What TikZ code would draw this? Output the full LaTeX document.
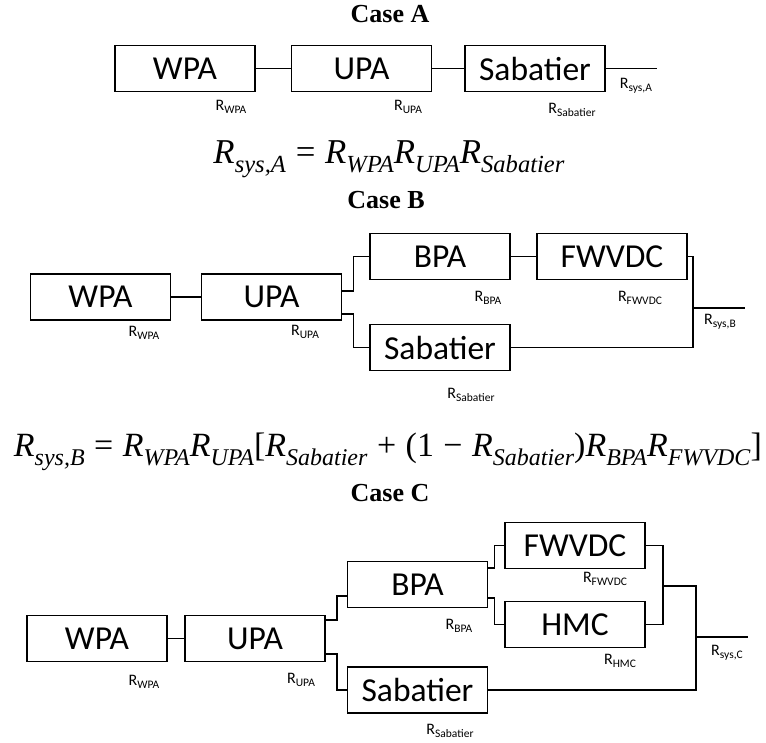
\documentclass[tikz,border=0pt]{standalone}
\usepackage{graphicx}
\usepackage[no-math]{fontspec}
\newfontfamily\calibri{Carlito}
\newfontfamily\titlefont{Liberation Serif}
\usetikzlibrary{calc}
\newcommand{\Rlab}[1]{R\raisebox{-0.22em}{\fontsize{11.5}{11.5}\selectfont #1}}
\newcommand{\eqR}[1]{\textit{R}\raisebox{-0.28em}{\fontsize{24}{24}\selectfont\textit{#1}}}
\newcommand{\eqop}[1]{\hspace{0.28em}#1\hspace{0.28em}}
\tikzset{
  blk/.style={draw, line width=1.8pt, inner sep=0pt, minimum width=140pt, minimum height=46pt,
    font=\calibri\fontsize{33.5}{33.5}\selectfont},
  wide/.style={minimum width=150pt},
  lab/.style={inner sep=0pt, font=\calibri\fontsize{16}{16}\selectfont},
  ttl/.style={inner sep=0pt, anchor=base, font=\titlefont\bfseries\fontsize{26}{26}\selectfont},
  eqn/.style={inner sep=0pt, anchor=base, font=\titlefont\fontsize{34}{34}\selectfont},
  wire/.style={line width=1.6pt},
}
\begin{document}
\begin{tikzpicture}[x=1pt,y=-1pt]
\useasboundingbox (0,0) rectangle (766,742);

% ---------------- Case A ----------------
\node[ttl] (tA) at (390,22) {Case A};
\node[blk] (wa) at (185,68.5) {WPA};
\node[blk] (ua) at (361.5,68.5) {UPA};
\node[blk] (sa) at (535,68.5) {Sabatier};
\coordinate (outA) at (657,68.5);
\draw[wire] (wa.east) -- (ua.west);
\draw[wire] (ua.east) -- (sa.west);
\draw[wire] (sa.east) -- (outA);
\node[lab] (lwa) at (231,107) {\Rlab{WPA}};
\node[lab] (lua) at (408,107) {\Rlab{UPA}};
\node[lab] (lsa) at (572,110) {\Rlab{Sabatier}};
\node[lab] (lra) at (636,86) {\Rlab{sys,A}};
\node[eqn] (eqA) at (389,163)
  {\resizebox{351pt}{!}{\eqR{sys,A}\eqop{=}\eqR{WPA}\eqR{UPA}\eqR{Sabatier}}};

% ---------------- Case B ----------------
\node[ttl] (tB) at (386,208) {Case B};
\node[blk] (wb) at (100.5,297) {WPA};
\node[blk] (ub) at (271.5,297) {UPA};
\node[blk] (bb) at (440,256.5) {BPA};
\node[blk, wide] (fb) at (612,256.5) {FWVDC};
\node[blk] (sb) at (440,347.5) {Sabatier};
\coordinate (jB) at (693,308);
\coordinate (outB) at (745,308);
\draw[wire] (wb.east) -- (ub.west);
\draw[wire] ($(ub.east)+(0,-6)$) -- ++(11,0) |- (bb.west);
\draw[wire] ($(ub.east)+(0,17)$) -- ++(11,0) |- (sb.west);
\draw[wire] (bb.east) -- (fb.west);
\draw[wire] (fb.east) -| (jB) |- (sb.east);
\draw[wire] (jB) -- (outB);
\node[lab] (lwb) at (144,333) {\Rlab{WPA}};
\node[lab] (lub) at (305,332) {\Rlab{UPA}};
\node[lab] (lbb) at (488,298) {\Rlab{BPA}};
\node[lab] (lfb) at (640,298) {\Rlab{FWVDC}};
\node[lab] (lrb) at (720,322) {\Rlab{sys,B}};
\node[lab] (lsb) at (471,395) {\Rlab{Sabatier}};
\node[eqn] (eqB) at (388,456)
  {\resizebox{748pt}{!}{\eqR{sys,B}\eqop{=}\eqR{WPA}\eqR{UPA}[\eqR{Sabatier}\eqop{+}(1\eqop{−}\eqR{Sabatier})\eqR{BPA}\eqR{FWVDC}]}};

% ---------------- Case C ----------------
\node[ttl] (tC) at (390,501) {Case C};
\node[blk] (wc) at (97,638.5) {WPA};
\node[blk] (uc) at (255,638.5) {UPA};
\node[blk] (bc) at (417.5,584.5) {BPA};
\node[blk] (fc) at (575,545.5) {FWVDC};
\node[blk] (hc) at (575,624.5) {HMC};
\node[blk] (scc) at (417.5,690) {Sabatier};
\coordinate (kC) at (663,586);
\coordinate (jC) at (696,637);
\coordinate (outC) at (748,637);
\draw[wire] (wc.east) -- (uc.west);
\draw[wire] ($(uc.east)+(0,-18.5)$) -- ++(11,0) |- ($(bc.west)+(0,11.5)$);
\draw[wire] ($(uc.east)+(0,15.5)$) -- ++(11,0) |- (scc.west);
\draw[wire] ($(bc.east)+(0,-16.5)$) -- ++(6,0) |- (fc.west);
\draw[wire] ($(bc.east)+(0,13.5)$) -- ++(6,0) |- (hc.west);
\draw[wire] (fc.east) -| (kC) |- (hc.east);
\draw[wire] (kC) -| (jC) |- (scc.east);
\draw[wire] (jC) -- (outC);
\node[lab] (lwc) at (144,682) {\Rlab{WPA}};
\node[lab] (luc) at (301,680) {\Rlab{UPA}};
\node[lab] (lbc) at (459,626) {\Rlab{BPA}};
\node[lab] (lfc) at (605,579) {\Rlab{FWVDC}};
\node[lab] (lhc) at (620,661) {\Rlab{HMC}};
\node[lab] (lrc) at (727,653) {\Rlab{sys,C}};
\node[lab] (lsc) at (450,731) {\Rlab{Sabatier}};
\end{tikzpicture}
\end{document}
